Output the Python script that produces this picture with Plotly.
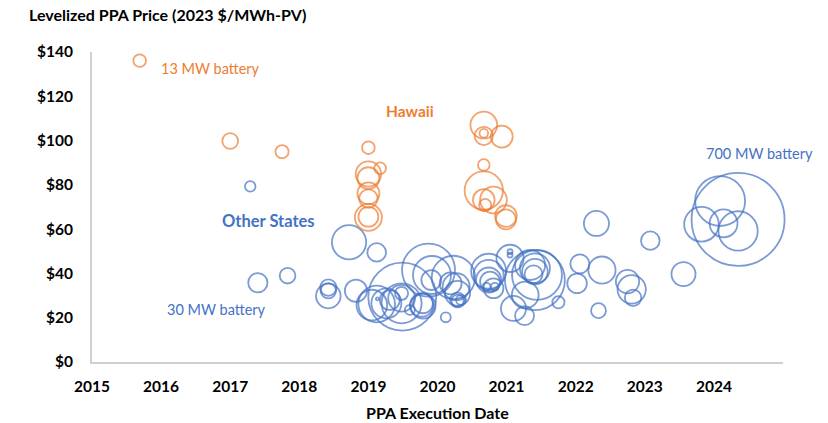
import plotly.graph_objects as go

# ---- Data ----
hawaii_date = [2015.69, 2017.00, 2017.75, 2019.00, 2019.00, 2019.00, 2019.17, 2019.00, 2019.00,
               2019.00, 2019.00, 2020.67, 2020.67, 2020.67, 2020.93, 2020.67, 2020.67, 2020.81,
               2020.67, 2020.69, 2020.99, 2020.99]
hawaii_price = [136.1, 99.8, 95.0, 96.8, 84.9, 83.0, 87.5, 76.2, 73.8,
                65.3, 65.6, 107.0, 103.3, 102.1, 101.8, 89.0, 77.4, 73.2,
                73.2, 70.9, 65.9, 64.4]
hawaii_mw = [13, 20, 14, 13, 52, 39, 11, 39, 28,
             59, 32, 58, 6, 27, 39, 11, 119, 58,
             38, 12, 38, 32]

other_date = [2017.29, 2017.40, 2017.83, 2018.72, 2018.42, 2018.42, 2018.42, 2018.82, 2019.12,
              2019.05, 2019.12, 2019.13, 2019.49, 2019.48, 2019.48, 2019.48, 2019.26, 2019.77,
              2019.79, 2019.60, 2019.87, 2019.92, 2019.91, 2020.23, 2020.19, 2020.29, 2020.29,
              2020.34, 2020.12, 2020.74, 2020.74, 2020.74, 2020.76, 2020.81, 2020.71, 2020.83,
              2021.05, 2021.05, 2021.05, 2021.41, 2021.44, 2021.41, 2021.41, 2021.39, 2021.34,
              2021.27, 2021.10, 2021.26, 2021.75, 2022.30, 2023.08, 2022.06, 2022.38, 2022.02,
              2022.75, 2022.81, 2022.83, 2022.33, 2023.56, 2024.35, 2024.09, 2023.82, 2024.14,
              2024.35, 2019.31, 2019.79, 2020.27, 2020.29]
other_price = [79.3, 35.8, 39.0, 54.1, 33.6, 32.2, 29.8, 32.2, 49.5,
               25.7, 26.2, 28.5, 29.5, 26.5, 28.8, 31.0, 26.5, 25.7,
               25.3, 23.5, 41.5, 39.3, 37.0, 38.2, 35.5, 31.0, 27.7,
               28.0, 20.2, 41.0, 39.3, 37.0, 36.3, 33.3, 34.0, 34.0,
               46.8, 49.8, 48.3, 37.0, 39.3, 42.3, 40.8, 39.6, 43.8,
               30.3, 24.2, 20.9, 27.0, 62.6, 54.8, 44.3, 41.5, 35.5,
               36.3, 32.8, 29.0, 23.2, 39.7, 64.4, 72.7, 62.2, 62.6,
               59.2, 28.0, 26.5, 34.0, 28.0]
other_mw = [9, 30, 20, 95, 22, 19, 49, 40, 28,
            76, 109, 0.3, 374, 130, 58, 14, 73, 44,
            51, 8, 227, 117, 32, 152, 39, 51, 12,
            8, 8, 99, 73, 51, 32, 32, 5, 5,
            60, 2, 2, 291, 202, 73, 53, 26, 73,
            58, 51, 29, 12, 51, 28, 29, 60, 31,
            44, 65, 22, 18, 47, 700, 202, 97, 63,
            125, 32, 32, 59, 18]

year_ticks = [2015, 2016, 2017, 2018, 2019, 2020, 2021, 2022, 2023, 2024]
price_ticks = [0, 20, 40, 60, 80, 100, 120, 140]
price_labels = ["$0", "$20", "$40", "$60", "$80", "$100", "$120", "$140"]

ORANGE = "#ED7D31"
BLUE = "#4472C4"
FONT = "Lato"
SIZEREF = 0.162

fig = go.Figure()
fig.add_trace(go.Scatter(
    x=other_date, y=other_price, mode="markers", name="Other States",
    marker=dict(size=other_mw, sizemode="area", sizeref=SIZEREF, sizemin=1.5,
                color="rgba(0,0,0,0)", line=dict(color=BLUE, width=1.8)),
    cliponaxis=False, hoverinfo="x+y"))
fig.add_trace(go.Scatter(
    x=hawaii_date, y=hawaii_price, mode="markers", name="Hawaii",
    marker=dict(size=hawaii_mw, sizemode="area", sizeref=SIZEREF, sizemin=1.5,
                color="rgba(0,0,0,0)", line=dict(color=ORANGE, width=1.8)),
    cliponaxis=False, hoverinfo="x+y"))

fig.update_layout(
    width=828, height=423,
    margin=dict(l=92, r=45, t=52, b=61, autoexpand=False),
    paper_bgcolor="white", plot_bgcolor="white",
    showlegend=False,
    font=dict(family=FONT, color="#000000"),
    xaxis=dict(range=[2015, 2025], tickvals=year_ticks, ticktext=[str(y) for y in year_ticks],
               showgrid=False, zeroline=False, showline=True, linecolor="#d0d0d0", linewidth=2,
               ticks="", ticklabelstandoff=9, automargin=False,
               tickfont=dict(family=FONT, size=15.5, color="#000000", weight="bold")),
    yaxis=dict(range=[0, 140], tickvals=price_ticks, ticktext=price_labels,
               showgrid=False, zeroline=False, showline=True, linecolor="#d0d0d0", linewidth=2,
               ticks="", ticklabelstandoff=14, automargin=False,
               tickfont=dict(family=FONT, size=15.5, color="#000000", weight="bold")),
    annotations=[
        dict(text="<b>Levelized PPA Price (2023 $/MWh-PV)</b>", xref="paper", yref="paper",
             x=-0.094, y=1.0, xanchor="left", yanchor="bottom", yshift=26, showarrow=False,
             font=dict(family=FONT, size=16, color="#000000")),
        dict(text="<b>PPA Execution Date</b>", xref="paper", yref="paper",
             x=0.5, y=0.0, xanchor="center", yanchor="middle", yshift=-50, showarrow=False,
             font=dict(family=FONT, size=16, color="#000000")),
        dict(text="13 MW battery", x=2015.97, y=132.5, xanchor="left", yanchor="middle",
             showarrow=False, font=dict(family=FONT, size=14.5, color=ORANGE)),
        dict(text="<b>Hawaii</b>", x=2019.6, y=113.5, xanchor="center", yanchor="middle",
             showarrow=False, font=dict(family=FONT, size=15.5, color=ORANGE)),
        dict(text="<b>Other States</b>", x=2017.55, y=63.8, xanchor="center", yanchor="middle",
             showarrow=False, font=dict(family=FONT, size=16.5, color=BLUE)),
        dict(text="30 MW battery", x=2016.8, y=23.5, xanchor="center", yanchor="middle",
             showarrow=False, font=dict(family=FONT, size=14.5, color=BLUE)),
        dict(text="700 MW battery", x=2024.66, y=94.3, xanchor="center", yanchor="middle",
             showarrow=False, font=dict(family=FONT, size=14.5, color=BLUE)),
    ],
)

fig.write_html(
    "out.html",
    config={"displayModeBar": False},
    post_script="document.body.style.margin='0';document.body.style.padding='0';"
                "document.documentElement.style.overflow='hidden';",
)
